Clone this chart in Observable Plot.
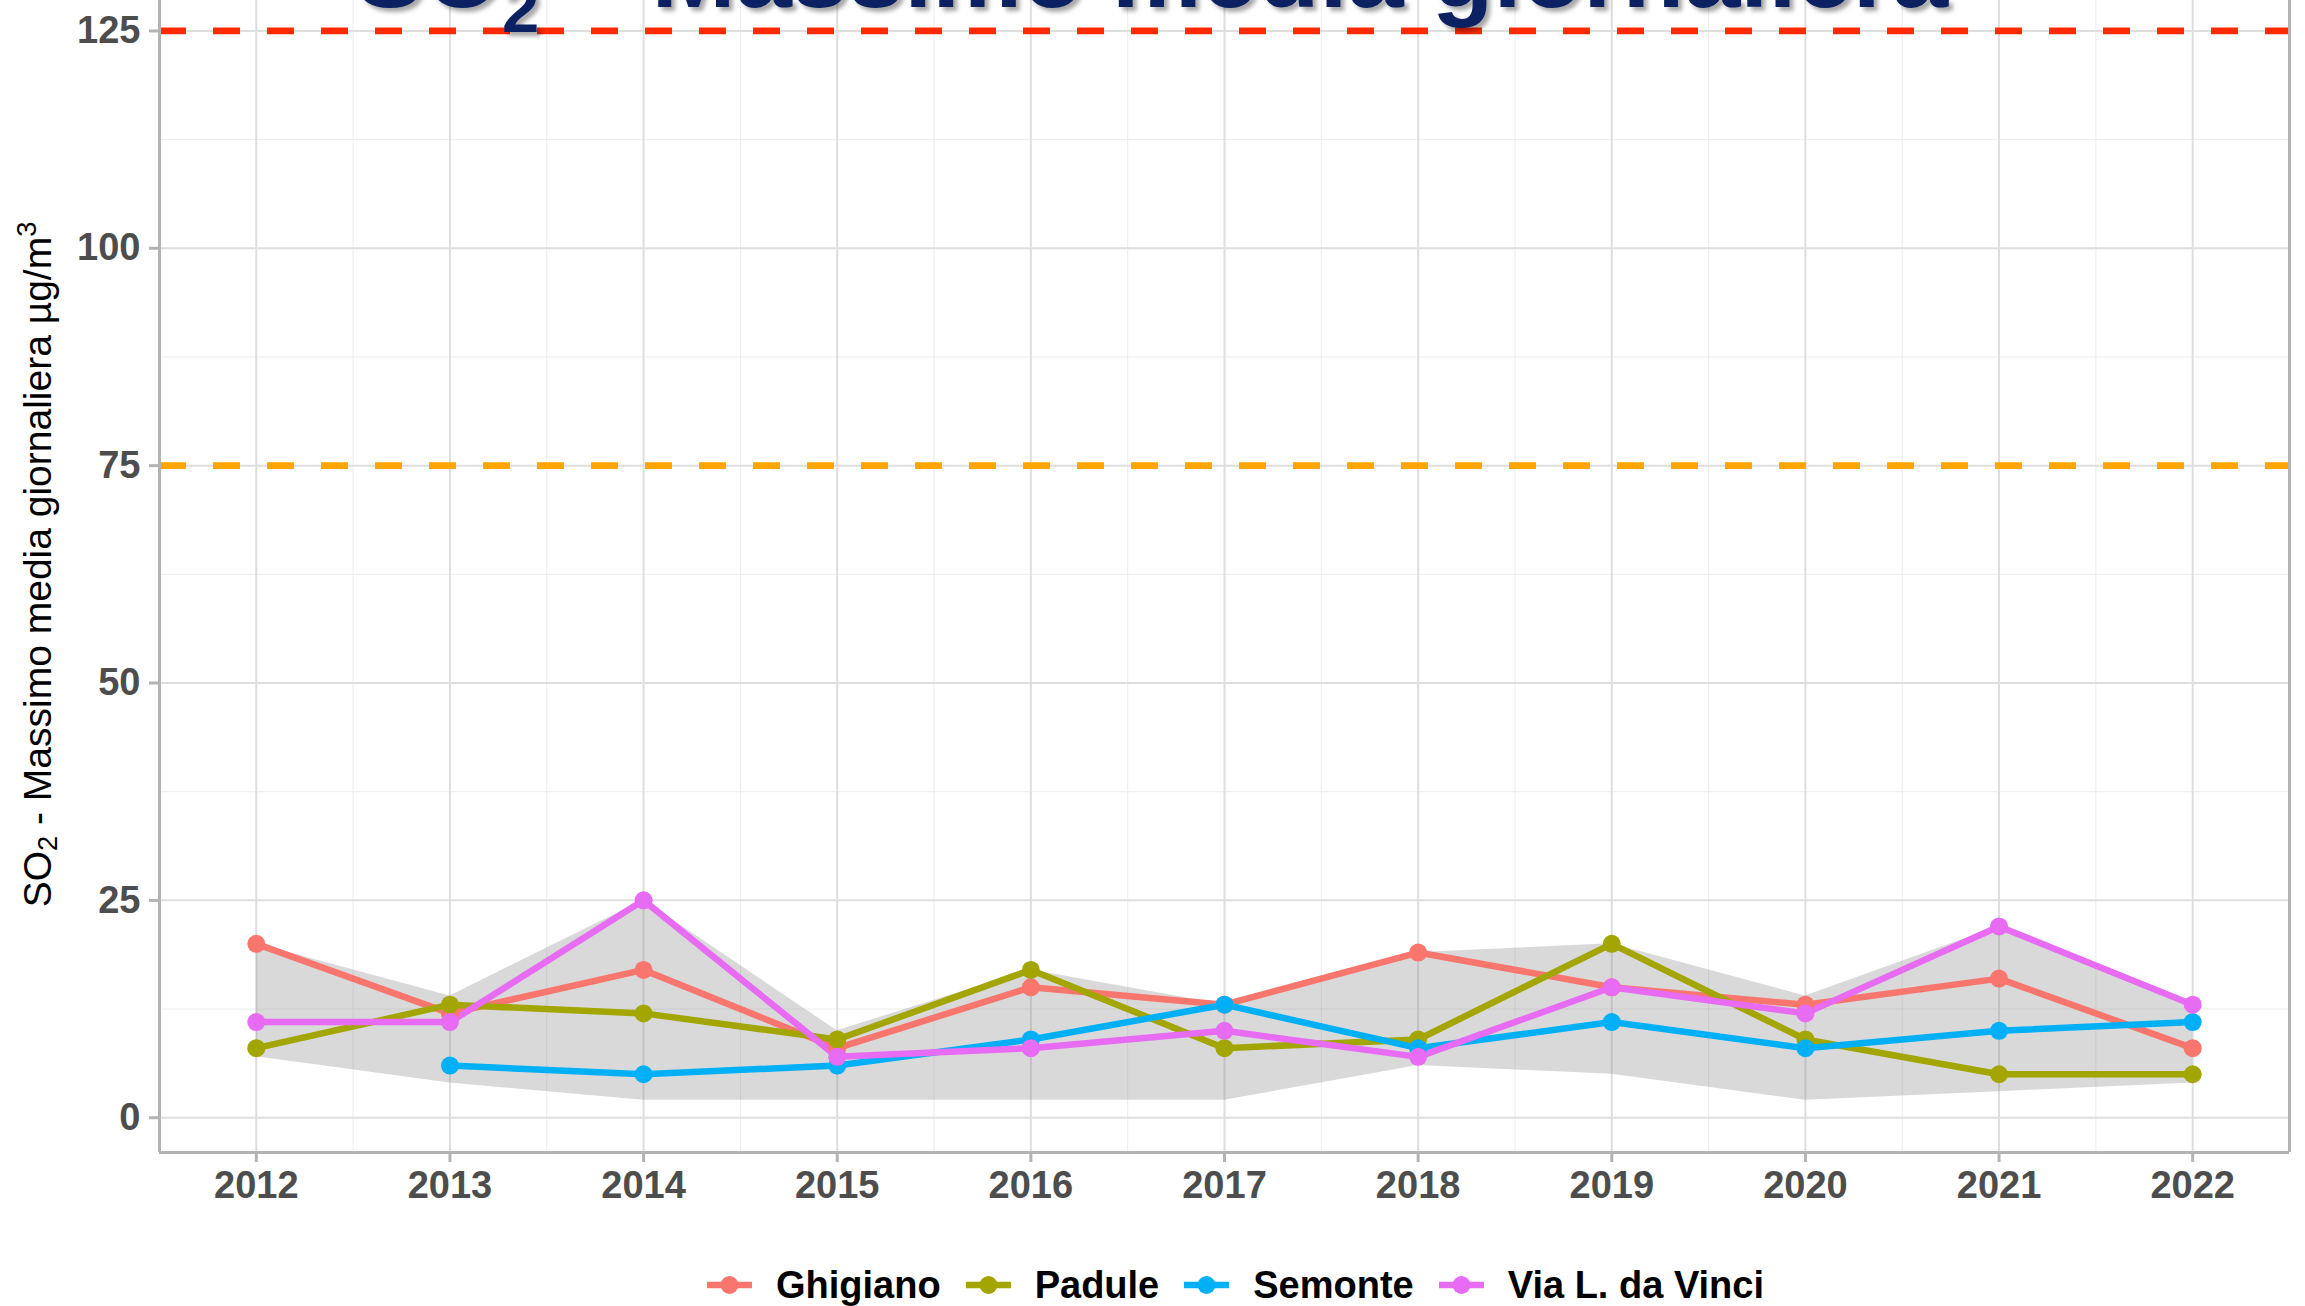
<!DOCTYPE html>
<html>
<head>
<meta charset="utf-8">
<script src="https://cdn.jsdelivr.net/npm/d3@7"></script>
<script src="https://cdn.jsdelivr.net/npm/@observablehq/plot@0.6"></script>
<style>
  html, body { margin: 0; padding: 0; background: #ffffff; overflow: hidden; }
  body { width: 2305px; height: 1306px; position: relative; font-family: "Liberation Sans", Arial, sans-serif; }
  #title {
    position: absolute; left: 356px; top: -78px; margin: 0;
    font-size: 101px; line-height: 101px; font-weight: bold; color: #0b2161;
    white-space: nowrap; z-index: 5;
    text-shadow: 4px 4px 4px rgba(0,0,0,0.35);
  }
  #title .sub { font-size: 67px; line-height: 67px; vertical-align: -25px; }
  #legend {
    position: absolute; top: 1266px; left: 707px; height: 38px;
    display: flex; align-items: center; font-size: 38px; line-height: 38px;
    font-weight: bold; color: #000; white-space: nowrap;
  }
  #legend .item { display: flex; align-items: center; margin-right: 25px; }
  #legend svg { margin-right: 24px; }
</style>
</head>
<body>
<div id="title">SO<span class="sub">2</span> – Massimo media giornaliera</div>
<div id="chart"></div>
<div id="legend"></div>
<script>
// ---- data ----
const years = [2012, 2013, 2014, 2015, 2016, 2017, 2018, 2019, 2020, 2021, 2022];
const ghigiano   = [20, 12, 17,  8, 15, 13, 19, 15, 13, 16,  8];
const padule     = [ 8, 13, 12,  9, 17,  8,  9, 20,  9,  5,  5];
const semonte    = [null, 6, 5,  6,  9, 13,  8, 11,  8, 10, 11];
const viaDaVinci = [11, 11, 25,  7,  8, 10,  7, 15, 12, 22, 13];
const bandMin = [7, 4, 2, 2, 2, 2, 6, 5, 2, 3, 4];
const bandMax = [20, 14, 25, 10, 17, 13, 19, 20, 14, 22, 13];
const stations = ["Ghigiano", "Padule", "Semonte", "Via L. da Vinci"];
const stationColors = ["#F8766D", "#A3A500", "#00B0F6", "#E76BF3"];
const yTicks = [0, 25, 50, 75, 100, 125];
const yMinorTicks = [12.5, 37.5, 62.5, 87.5, 112.5];
const xMinorTicks = [2012.5, 2013.5, 2014.5, 2015.5, 2016.5, 2017.5, 2018.5, 2019.5, 2020.5, 2021.5];
const limitAttention = 75;
const limitDaily = 125;
const yTitle = "SO2 - Massimo media giornaliera \u00B5g/m3";

// ---- tables ----
const series = [ghigiano, padule, semonte, viaDaVinci];
const rows = [];
series.forEach((vals, s) => vals.forEach((v, i) => {
  if (v != null) rows.push({station: stations[s], year: years[i], value: v});
}));
const band = years.map((y, i) => ({year: y, lo: bandMin[i], hi: bandMax[i]}));

const gridMajor = "#dedede";
const gridMinor = "#ececec";
const border = "#b3b3b3";

const chart = Plot.plot({
  width: 2305,
  height: 1250,
  marginTop: 0,
  marginBottom: 98,
  marginLeft: 159,
  marginRight: 16,
  style: {fontFamily: "'Liberation Sans', Arial, sans-serif", background: "#ffffff", overflow: "visible"},
  x: {domain: [2011.5, 2022.5]},
  y: {domain: [-4, 128.5]},
  color: {domain: stations, range: stationColors},
  marks: [
    Plot.gridX(xMinorTicks, {stroke: gridMinor, strokeOpacity: 1, strokeWidth: 1}),
    Plot.gridY(yMinorTicks, {stroke: gridMinor, strokeOpacity: 1, strokeWidth: 1}),
    Plot.gridX(years, {stroke: gridMajor, strokeOpacity: 1, strokeWidth: 2}),
    Plot.gridY(yTicks, {stroke: gridMajor, strokeOpacity: 1, strokeWidth: 2}),
    Plot.areaY(band, {x: "year", y1: "lo", y2: "hi", fill: "#808080", fillOpacity: 0.3}),
    Plot.ruleY([limitAttention], {stroke: "#FFA500", strokeWidth: 6.8, strokeDasharray: "27,27"}),
    Plot.ruleY([limitDaily], {stroke: "#FF2A00", strokeWidth: 6.8, strokeDasharray: "27,27"}),
    Plot.line(rows, {x: "year", y: "value", z: "station", stroke: "station", strokeWidth: 6.5}),
    Plot.dot(rows, {x: "year", y: "value", fill: "station", r: 9}),
    Plot.ruleX([2011.5, 2022.5], {stroke: border, strokeWidth: 3}),
    Plot.ruleY([-4], {stroke: border, strokeWidth: 3}),
    Plot.axisX(years, {tickSize: 10, tickPadding: 9, tickFormat: d => String(d), fontSize: 38, fontWeight: "bold", fill: "#4d4d4d", stroke: border, strokeWidth: 3, label: null}),
    Plot.axisY(yTicks, {tickSize: 10, tickPadding: 9, fontSize: 38, fontWeight: "bold", fill: "#4d4d4d", stroke: border, strokeWidth: 3, label: null}),
    Plot.text([yTitle], {text: d => d, frameAnchor: "left", rotate: -90, dx: -121, dy: -12, fontSize: 39, fill: "#000000", textAnchor: "middle", lineAnchor: "middle", className: "ytitle"})
  ]
});
document.getElementById("chart").appendChild(chart);

// subscript / superscript in the y-axis title
chart.querySelectorAll("text").forEach(t => {
  if (t.textContent === yTitle) {
    const ns = "http://www.w3.org/2000/svg";
    const parts = [["SO", null], ["2", "sub"], [" - Massimo media giornaliera \u00B5g/m", null], ["3", "sup"]];
    while (t.firstChild) t.removeChild(t.firstChild);
    parts.forEach(([s, kind]) => {
      const ts = document.createElementNS(ns, "tspan");
      ts.textContent = s;
      if (kind === "sub") { ts.setAttribute("font-size", "70%"); ts.setAttribute("baseline-shift", "-22%"); }
      if (kind === "sup") { ts.setAttribute("font-size", "70%"); ts.setAttribute("baseline-shift", "55%"); }
      t.appendChild(ts);
    });
  }
});

// ---- legend ----
const legend = document.getElementById("legend");
stations.forEach((name, i) => {
  const item = document.createElement("div");
  item.className = "item";
  const ns = "http://www.w3.org/2000/svg";
  const svg = document.createElementNS(ns, "svg");
  svg.setAttribute("width", "45");
  svg.setAttribute("height", "38");
  const line = document.createElementNS(ns, "line");
  line.setAttribute("x1", "0"); line.setAttribute("x2", "45");
  line.setAttribute("y1", "19"); line.setAttribute("y2", "19");
  line.setAttribute("stroke", stationColors[i]); line.setAttribute("stroke-width", "6.5");
  const c = document.createElementNS(ns, "circle");
  c.setAttribute("cx", "22.5"); c.setAttribute("cy", "19"); c.setAttribute("r", "9");
  c.setAttribute("fill", stationColors[i]);
  svg.appendChild(line); svg.appendChild(c);
  const label = document.createElement("span");
  label.textContent = name;
  item.appendChild(svg); item.appendChild(label);
  legend.appendChild(item);
});
</script>
</body>
</html>
